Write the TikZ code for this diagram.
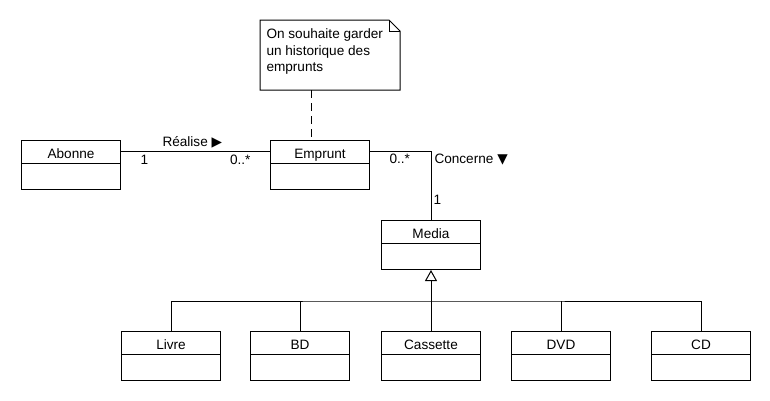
\documentclass[tikz,border=0pt]{standalone}
\usepackage{fontspec}
\setmainfont{Liberation Sans}
\newfontfamily\symfont{DejaVu Sans}
\usetikzlibrary{arrows.meta,calc}
\begin{document}
\begin{tikzpicture}[x=1pt,y=-1pt,line width=1pt,
  font=\fontsize{13.6}{16.5}\selectfont,
  umlclass/.style={draw, fill=white, anchor=north west, minimum width=99pt,
    inner xsep=0pt, inner ysep=0pt, text height=18pt, text depth=31pt,
    path picture={\draw[line width=1pt]
      ([yshift=-23pt]path picture bounding box.north west) --
      ([yshift=-23pt]path picture bounding box.north east);}},
  lbl/.style={inner sep=0pt},
  notedash/.style={dash pattern=on 8pt off 5pt},
  inherit/.style={-{Triangle[open,length=11pt,width=12pt]}}]
\fill[white] (0,0) rectangle (770,400);
\useasboundingbox (0,0) rectangle (770,400);

% classes
\node[umlclass] (abonne)   at (21,140)  {Abonne};
\node[umlclass] (emprunt)  at (270,140) {Emprunt};
\node[umlclass] (media)    at (381,220) {Media};
\node[umlclass] (livre)    at (121,331) {Livre};
\node[umlclass] (bd)       at (250,331) {BD};
\node[umlclass] (cassette) at (381,331) {Cassette};
\node[umlclass] (dvd)      at (511,331) {DVD};
\node[umlclass] (cd)       at (651,331) {CD};

% note
\node[anchor=north west, minimum width=139pt, minimum height=69pt, inner sep=0pt] (note) at (260,20) {};
\draw (note.south west) -- (note.north west) -- ([xshift=-11pt]note.north east)
  -- ([yshift=-11pt]note.north east) -- (note.south east) -- cycle;
\draw ([xshift=-11pt]note.north east) -- ([xshift=-11pt,yshift=-11pt]note.north east)
  -- ([yshift=-11pt]note.north east);
\node[lbl, anchor=north west, align=left] (notetext) at (266,28.5)
  {On souhaite garder\\un historique des\\emprunts};
\draw[notedash] ([xshift=51pt]note.south west) -- ([xshift=41pt]emprunt.north west);

% associations
\draw ([yshift=-11pt]abonne.north east) -- ([yshift=-11pt]emprunt.north west);
\node[lbl, anchor=base west] (realise) at (162,146.5) {Réalise {\symfont ▶}};
\node[lbl, anchor=base west] (mA) at (140,164) {1};
\node[lbl, anchor=base east] (mB) at (251,164) {0..*};

\draw ([yshift=-11pt]emprunt.north east) -| (media.north);
\node[lbl, anchor=base west] (mC) at (389,163.5) {0..*};
\node[lbl, anchor=base west] (concerne) at (434,163.5) {Concerne {\symfont ▼}};
\node[lbl, anchor=base west] (mD) at (433,204) {1};

% generalisation
\coordinate (bus) at ([yshift=30pt]cassette.north);
\draw (livre.north) |- (bus) -| (cd.north);
\draw (bd.north) -- (bd.north |- bus);
\draw (dvd.north) -- (dvd.north |- bus);
\draw[inherit] (cassette.north) -- (media.south);
\end{tikzpicture}
\end{document}
